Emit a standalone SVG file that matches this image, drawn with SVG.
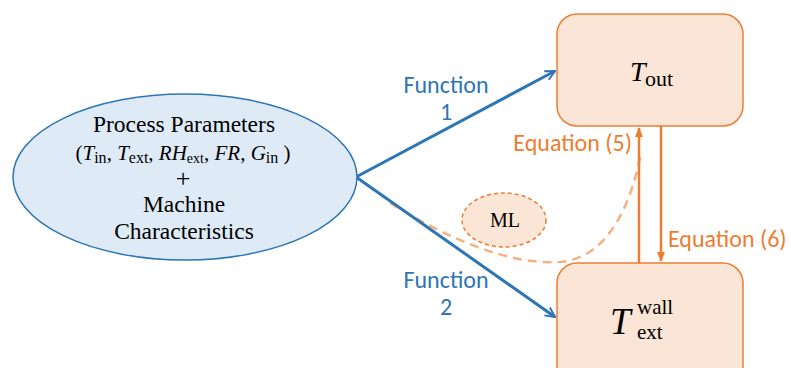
<svg xmlns="http://www.w3.org/2000/svg" width="791" height="368" viewBox="0 0 791 368">
<style>
.serif{font-family:"Liberation Serif","DejaVu Serif",serif;fill:#000}
.sans{font-family:"Carlito","Liberation Sans",sans-serif}
.blue{fill:#2E75B6;font-size:24px}
.orange{fill:#ED7D31;font-size:24px}
.box{fill:#FBE5D6;stroke:#ED7D31;stroke-width:1.5}
.bl{stroke:#2E75B6;stroke-width:3;fill:none}
.or{stroke:#ED7D31;stroke-width:2.5;fill:none}
</style>
<defs>
<marker id="ab" viewBox="0 0 10 10" refX="9" refY="5" markerWidth="4" markerHeight="4" orient="auto" markerUnits="strokeWidth">
<path d="M1,1 L9,5 L1,9" fill="none" stroke="#2E75B6" stroke-width="1.6"/>
</marker>
<marker id="ao" viewBox="0 0 10 10" refX="9" refY="5" markerWidth="4" markerHeight="4" orient="auto" markerUnits="strokeWidth">
<path d="M0,1 L10,5 L0,9 Z" fill="#ED7D31"/>
</marker>
</defs>
<g id="connectors">
<path d="M390,203 C450,240 510,265 560,262 C610,258 632,200 641,153" fill="none" stroke="#F4B183" stroke-width="2.5" stroke-dasharray="9,6"/>
<line class="bl" x1="356" y1="177" x2="555" y2="71" marker-end="url(#ab)"/>
<line class="bl" x1="356" y1="177" x2="555" y2="317" marker-end="url(#ab)"/>
<line class="or" x1="639" y1="263" x2="639" y2="128" marker-end="url(#ao)"/>
<line class="or" x1="661" y1="126" x2="661" y2="261" marker-end="url(#ao)"/>
<text class="sans blue" x="446" y="93" text-anchor="middle">Function</text>
<text class="sans blue" x="446" y="120" text-anchor="middle">1</text>
<text class="sans blue" x="446" y="288" text-anchor="middle">Function</text>
<text class="sans blue" x="446" y="315" text-anchor="middle">2</text>
<text class="sans orange" x="632" y="151" text-anchor="end">Equation (5)</text>
<text class="sans orange" x="668" y="247">Equation (6)</text>
</g>
<g id="process">
<ellipse cx="185" cy="177" rx="172" ry="83" fill="#DEEBF7" stroke="#2E75B6" stroke-width="1.5"/>
<text class="serif" x="184" y="132" font-size="23.5" text-anchor="middle">Process Parameters</text>
<text class="serif" x="183" y="160" font-size="21" text-anchor="middle">(<tspan font-style="italic">T</tspan><tspan font-size="16" dy="3">in</tspan><tspan dy="-3">, </tspan><tspan font-style="italic">T</tspan><tspan font-size="16" dy="3">ext</tspan><tspan dy="-3">, </tspan><tspan font-style="italic">RH</tspan><tspan font-size="14" dy="3">ext</tspan><tspan dy="-3">, </tspan><tspan font-style="italic">FR</tspan>, <tspan font-style="italic">G</tspan><tspan font-size="16" dy="3">in</tspan><tspan dy="-3"> )</tspan></text>
<text class="serif" x="183" y="187" font-size="26" text-anchor="middle">+</text>
<text class="serif" x="184" y="212" font-size="23.5" text-anchor="middle">Machine</text>
<text class="serif" x="184" y="239" font-size="23.5" text-anchor="middle">Characteristics</text>
</g>
<g id="ml">
<ellipse cx="504" cy="220" rx="42" ry="27" fill="#FBE5D6" stroke="#ED7D31" stroke-width="1.5" stroke-dasharray="4,3"/>
<text class="serif" x="505" y="227" font-size="20" text-anchor="middle">ML</text>
</g>
<g id="tout">
<rect class="box" x="557" y="14" width="186" height="112" rx="20"/>
<text class="serif" x="630" y="81" font-size="28" font-style="italic">T</text>
<text class="serif" x="645" y="86" font-size="22">out</text>
</g>
<g id="twall">
<rect class="box" x="557" y="263" width="186" height="125" rx="20"/>
<text class="serif" x="610" y="334" font-size="37" font-style="italic">T</text>
<text class="serif" x="637" y="314" font-size="21">wall</text>
<text class="serif" x="637" y="339" font-size="21">ext</text>
</g>
</svg>
